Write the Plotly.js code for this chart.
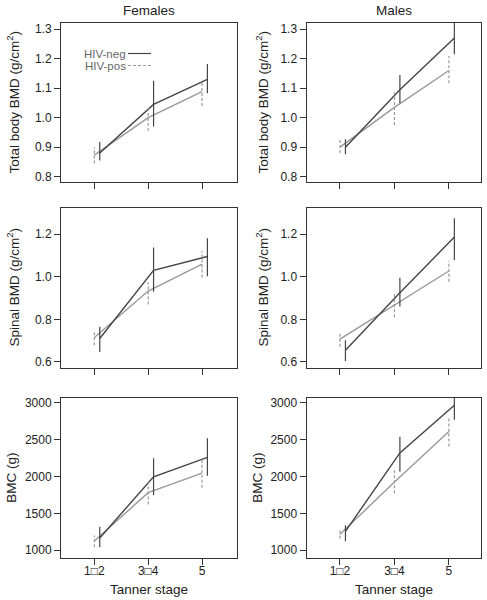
<!DOCTYPE html>
<html><head><meta charset="utf-8">
<script src="https://cdn.plot.ly/plotly-3.0.1.min.js"></script>
<style>html,body{margin:0;padding:0;background:#fff}#chart{width:487px;height:600px}</style>
</head><body><div id="chart"></div>
<script>
// ---- data ----
const tannerLabels = ["1\u25A12", "3\u25A14", "5"];
const stagePos = [1, 2, 3];

const femTotNeg = [0.880, 1.045, 1.130], femTotNegLo = [0.855, 0.970, 1.083], femTotNegHi = [0.918, 1.125, 1.182];
const femTotPos = [0.873, 1.000, 1.088], femTotPosLo = [0.845, 0.955, 1.040], femTotPosHi = [0.900, 1.035, 1.125];
const malTotNeg = [0.900, 1.095, 1.270], malTotNegLo = [0.876, 1.050, 1.215], malTotNegHi = [0.927, 1.145, 1.340];
const malTotPos = [0.900, 1.035, 1.160], malTotPosLo = [0.880, 0.975, 1.117], malTotPosHi = [0.925, 1.085, 1.209];

const femSpNeg = [0.710, 1.030, 1.095], femSpNegLo = [0.647, 0.930, 1.002], femSpNegHi = [0.765, 1.137, 1.181];
const femSpPos = [0.715, 0.933, 1.059], femSpPosLo = [0.679, 0.870, 0.996], femSpPosHi = [0.749, 0.974, 1.121];
const malSpNeg = [0.655, 0.925, 1.186], malSpNegLo = [0.605, 0.860, 1.079], malSpNegHi = [0.702, 0.995, 1.275];
const malSpPos = [0.707, 0.868, 1.027], malSpPosLo = [0.671, 0.810, 0.977], malSpPosHi = [0.737, 0.922, 1.074];

const femBmcNeg = [1165, 1995, 2260], femBmcNegLo = [1045, 1748, 2011], femBmcNegHi = [1317, 2247, 2519];
const femBmcPos = [1125, 1780, 2045], femBmcPosLo = [1040, 1621, 1848], femBmcPosHi = [1200, 1952, 2238];
const malBmcNeg = [1255, 2320, 2965], malBmcNegLo = [1122, 2065, 2769], malBmcNegHi = [1340, 2540, 3080];
const malBmcPos = [1215, 1925, 2610], malBmcPosLo = [1159, 1771, 2406], malBmcPosHi = [1286, 2100, 2800];

const yTitles = ["Total body BMD (g/cm<sup>2</sup>)", "Spinal BMD (g/cm<sup>2</sup>)", "BMC (g)"];
const colTitles = ["Females", "Males"];
const legendNames = ["HIV-neg", "HIV-pos"];

// ---- style ----
const NEG = '#454545', POS = '#999999', FONT = 'Liberation Sans, Arial, sans-serif', AX = '#333333';
const negOffset = 0.1;

const panels = [
  {neg: femTotNeg, nlo: femTotNegLo, nhi: femTotNegHi, pos: femTotPos, plo: femTotPosLo, phi: femTotPosHi},
  {neg: malTotNeg, nlo: malTotNegLo, nhi: malTotNegHi, pos: malTotPos, plo: malTotPosLo, phi: malTotPosHi},
  {neg: femSpNeg, nlo: femSpNegLo, nhi: femSpNegHi, pos: femSpPos, plo: femSpPosLo, phi: femSpPosHi},
  {neg: malSpNeg, nlo: malSpNegLo, nhi: malSpNegHi, pos: malSpPos, plo: malSpPosLo, phi: malSpPosHi},
  {neg: femBmcNeg, nlo: femBmcNegLo, nhi: femBmcNegHi, pos: femBmcPos, plo: femBmcPosLo, phi: femBmcPosHi},
  {neg: malBmcNeg, nlo: malBmcNegLo, nhi: malBmcNegHi, pos: malBmcPos, plo: malBmcPosLo, phi: malBmcPosHi}
];

const W = 487, H = 600;
const colPx = [[61, 237], [306.5, 480.5]];
const rowPx = [[23, 182], [207.5, 367.5], [398, 557.5]];
const xRanges = [[0.38, 3.65], [0.385, 3.58]];
const yRanges = [[0.782, 1.321], [0.574, 1.325], [901, 3064]];
const yTicks = [[0.8, 0.9, 1.0, 1.1, 1.2, 1.3], [0.6, 0.8, 1.0, 1.2], [1000, 1500, 2000, 2500, 3000]];

function errSeg(xs, lo, hi) {
  const x = [], y = [];
  xs.forEach((v, i) => { x.push(v, v, null); y.push(lo[i], hi[i], null); });
  return {x, y};
}

const traces = [];
const layout = {
  width: W, height: H, margin: {l: 0, r: 0, t: 0, b: 0},
  paper_bgcolor: '#fff', plot_bgcolor: '#fff', showlegend: false,
  font: {family: FONT, size: 12, color: '#222'},
  annotations: [], shapes: []
};

panels.forEach((p, k) => {
  const r = Math.floor(k / 2), c = k % 2;
  const n = k + 1;
  const xa = 'x' + (n === 1 ? '' : n), ya = 'y' + (n === 1 ? '' : n);
  const xNeg = stagePos.map(v => v + negOffset);
  const xPos = stagePos.slice();
  traces.push({x: xPos, y: p.pos, xaxis: xa, yaxis: ya, mode: 'lines', line: {color: POS, width: 1.4}, hoverinfo: 'skip'});
  traces.push({x: xNeg, y: p.neg, xaxis: xa, yaxis: ya, mode: 'lines', line: {color: NEG, width: 1.4}, hoverinfo: 'skip'});
  const ep = errSeg(xPos, p.plo, p.phi);
  traces.push({x: ep.x, y: ep.y, xaxis: xa, yaxis: ya, mode: 'lines', line: {color: POS, width: 1.2, dash: '3px,2px'}, hoverinfo: 'skip'});
  const en = errSeg(xNeg, p.nlo, p.nhi);
  traces.push({x: en.x, y: en.y, xaxis: xa, yaxis: ya, mode: 'lines', line: {color: NEG, width: 1.2}, hoverinfo: 'skip'});

  const xKey = 'xaxis' + (n === 1 ? '' : n), yKey = 'yaxis' + (n === 1 ? '' : n);
  const xAxis = {
    domain: [colPx[c][0] / W, colPx[c][1] / W], anchor: ya, range: xRanges[c],
    tickmode: 'array', tickvals: stagePos,
    showticklabels: r === 2, ticks: 'outside', ticklen: 6, tickwidth: 1, tickcolor: AX,
    showline: true, mirror: true, linecolor: AX, linewidth: 1, showgrid: false, zeroline: false,
    tickfont: {size: 12, color: '#222'}, fixedrange: true
  };
  if (r === 2) { xAxis.ticktext = tannerLabels; xAxis.ticklabelstandoff = -4; }
  layout[xKey] = xAxis;
  layout[yKey] = {
    domain: [1 - rowPx[r][1] / H, 1 - rowPx[r][0] / H], anchor: xa, range: yRanges[r],
    tickmode: 'array', tickvals: yTicks[r], tickformat: r === 2 ? 'd' : '.1f',
    ticks: 'outside', ticklen: 6, tickwidth: 1, tickcolor: AX,
    showline: true, mirror: true, linecolor: AX, linewidth: 1, showgrid: false, zeroline: false,
    tickfont: {size: 12, color: '#222'}, fixedrange: true
  };
  const tx = c === 0 ? (r === 2 ? 12 : 13) : (r === 2 ? 258 : 262);
  layout.annotations.push({
    xref: 'paper', yref: 'paper', x: tx / W, y: 1 - (rowPx[r][0] + rowPx[r][1]) / 2 / H,
    text: yTitles[r], textangle: -90, showarrow: false, xanchor: 'center', yanchor: 'middle',
    font: {size: 13.5, color: '#222'}
  });
  if (r === 2) {
    layout.annotations.push({
      xref: 'paper', yref: 'paper', x: (colPx[c][0] + colPx[c][1]) / 2 / W, y: 1 - 589 / H,
      text: 'Tanner stage', showarrow: false, xanchor: 'center', yanchor: 'middle',
      font: {size: 13.5, color: '#222'}
    });
  }
  if (r === 0) {
    layout.annotations.push({
      xref: 'paper', yref: 'paper', x: (colPx[c][0] + colPx[c][1]) / 2 / W, y: 1 - 10 / H,
      text: colTitles[c], showarrow: false, xanchor: 'center', yanchor: 'middle',
      font: {size: 13.5, color: '#222'}
    });
  }
});

// legend (top-left panel)
const legY = [53.5, 65.5];
const legCol = [NEG, POS], legDash = ['solid', '3px,2px'];
legendNames.forEach((name, i) => {
  const yd = 1 - (legY[i] - rowPx[0][0]) / (rowPx[0][1] - rowPx[0][0]);
  layout.annotations.push({
    xref: 'x domain', yref: 'y domain', x: (126.5 - 61) / 176, y: yd, text: name, showarrow: false,
    xanchor: 'right', yanchor: 'middle', font: {size: 11.5, color: '#666'}, borderpad: 0
  });
  layout.shapes.push({
    type: 'line', xref: 'x domain', yref: 'y domain', x0: (128 - 61) / 176, x1: (151 - 61) / 176, y0: yd, y1: yd,
    line: {color: legCol[i], width: 1.2, dash: legDash[i]}
  });
});

Plotly.newPlot('chart', traces, layout, {displayModeBar: false, staticPlot: true});
</script>
</body></html>
